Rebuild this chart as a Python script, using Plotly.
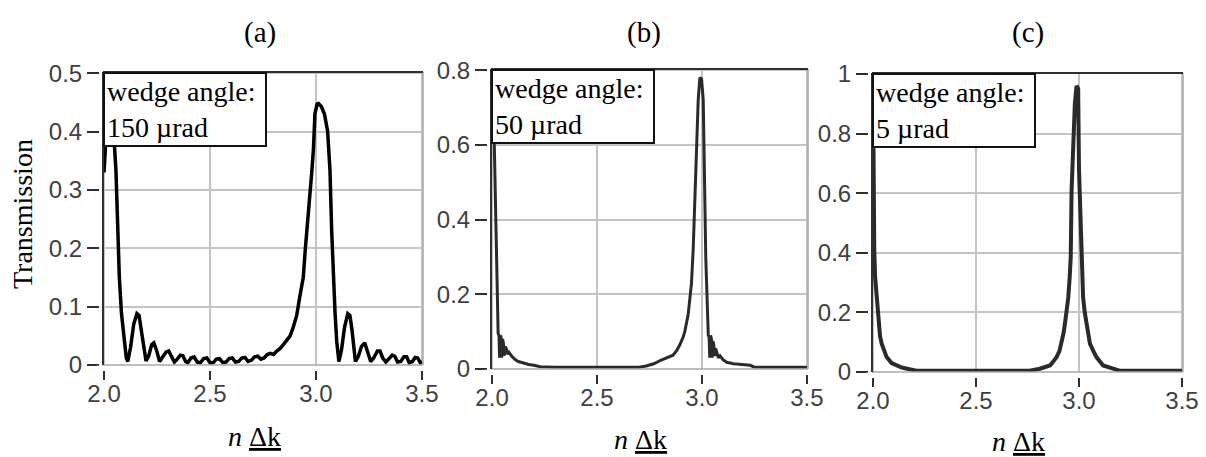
import plotly.graph_objects as go

# ---------------- data ----------------
panel_titles = ["(a)", "(b)", "(c)"]
wedge_labels = ["wedge angle:<br>150 µrad", "wedge angle:<br>50 µrad", "wedge angle:<br>5 µrad"]
x_ticks = [2.0, 2.5, 3.0, 3.5]
x_ticktext = ["2.0", "2.5", "3.0", "3.5"]
y_ticks_a = [0, 0.1, 0.2, 0.3, 0.4, 0.5]
y_ticktext_a = ["0", "0.1", "0.2", "0.3", "0.4", "0.5"]
y_ticks_b = [0, 0.2, 0.4, 0.6, 0.8]
y_ticktext_b = ["0", "0.2", "0.4", "0.6", "0.8"]
y_ticks_c = [0, 0.2, 0.4, 0.6, 0.8, 1.0]
y_ticktext_c = ["0", "0.2", "0.4", "0.6", "0.8", "1"]

# (a) wedge angle 150 µrad
x_a = [2.000, 2.005, 2.012, 2.020, 2.030, 2.040, 2.050, 2.056, 2.064, 2.072, 2.082,
       2.097, 2.105, 2.112, 2.125, 2.140, 2.155, 2.165, 2.175, 2.185, 2.198, 2.210,
       2.225, 2.235, 2.248, 2.262, 2.275, 2.292, 2.305, 2.318, 2.332, 2.345, 2.360,
       2.372, 2.385, 2.395, 2.410, 2.425, 2.440, 2.455, 2.470, 2.485, 2.500, 2.515,
       2.530, 2.545, 2.560, 2.575, 2.590, 2.605, 2.620, 2.635, 2.650, 2.665, 2.680,
       2.695, 2.710, 2.725, 2.740, 2.755, 2.770, 2.785, 2.800, 2.815, 2.830, 2.846,
       2.862, 2.878, 2.893, 2.909, 2.925, 2.940, 2.950, 2.964, 2.972, 2.980, 2.988,
       2.995, 3.005, 3.012, 3.025, 3.040, 3.055, 3.066, 3.074, 3.082, 3.090, 3.098,
       3.108, 3.120, 3.135, 3.150, 3.160, 3.170, 3.178, 3.186, 3.200, 3.215, 3.230,
       3.243, 3.258, 3.272, 3.290, 3.302, 3.315, 3.330, 3.345, 3.360, 3.372, 3.385,
       3.400, 3.415, 3.428, 3.440, 3.455, 3.468, 3.480, 3.492, 3.500]
y_a = [0.330, 0.370, 0.410, 0.440, 0.445, 0.430, 0.380, 0.334, 0.243, 0.151, 0.089,
       0.043, 0.012, 0.006, 0.030, 0.070, 0.088, 0.085, 0.060, 0.030, 0.007, 0.015,
       0.035, 0.038, 0.025, 0.006, 0.012, 0.022, 0.024, 0.015, 0.005, 0.010, 0.017,
       0.016, 0.006, 0.004, 0.012, 0.014, 0.005, 0.004, 0.011, 0.012, 0.004, 0.004,
       0.010, 0.011, 0.004, 0.005, 0.011, 0.012, 0.005, 0.006, 0.012, 0.013, 0.006,
       0.008, 0.014, 0.015, 0.010, 0.012, 0.018, 0.020, 0.018, 0.024, 0.028, 0.035,
       0.042, 0.050, 0.065, 0.085, 0.120, 0.150, 0.200, 0.255, 0.295, 0.330, 0.370,
       0.430, 0.447, 0.448, 0.443, 0.430, 0.400, 0.334, 0.231, 0.151, 0.089, 0.040,
       0.006, 0.025, 0.065, 0.088, 0.085, 0.060, 0.030, 0.006, 0.015, 0.032, 0.038,
       0.025, 0.006, 0.012, 0.024, 0.024, 0.012, 0.005, 0.010, 0.017, 0.015, 0.005,
       0.006, 0.014, 0.014, 0.004, 0.006, 0.013, 0.012, 0.004, 0.006]

# (b) wedge angle 50 µrad
x_b = [2.000, 2.006, 2.010, 2.013, 2.017, 2.021, 2.025, 2.029, 2.033, 2.036, 2.040,
       2.043, 2.046, 2.050, 2.054, 2.058, 2.062, 2.068, 2.072, 2.080, 2.093, 2.110,
       2.125, 2.150, 2.175, 2.200, 2.230, 2.300, 2.500, 2.700, 2.734, 2.770, 2.806,
       2.835, 2.862, 2.880, 2.894, 2.910, 2.918, 2.934, 2.942, 2.950, 2.958, 2.966,
       2.974, 2.982, 2.990, 2.998, 3.006, 3.010, 3.014, 3.018, 3.022, 3.026, 3.030,
       3.034, 3.037, 3.041, 3.045, 3.048, 3.052, 3.056, 3.060, 3.065, 3.070, 3.078,
       3.086, 3.100, 3.118, 3.150, 3.190, 3.230, 3.250, 3.400, 3.500]
y_b = [0.770, 0.720, 0.620, 0.550, 0.450, 0.300, 0.190, 0.095, 0.090, 0.030, 0.090,
       0.085, 0.030, 0.080, 0.070, 0.035, 0.060, 0.055, 0.040, 0.045, 0.035, 0.025,
       0.020, 0.015, 0.012, 0.010, 0.006, 0.005, 0.005, 0.005, 0.008, 0.014, 0.024,
       0.030, 0.037, 0.050, 0.064, 0.085, 0.100, 0.145, 0.180, 0.230, 0.319, 0.452,
       0.586, 0.720, 0.780, 0.776, 0.720, 0.550, 0.370, 0.300, 0.230, 0.140, 0.090,
       0.085, 0.030, 0.090, 0.080, 0.030, 0.075, 0.065, 0.035, 0.055, 0.045, 0.030,
       0.035, 0.025, 0.018, 0.014, 0.012, 0.010, 0.005, 0.005, 0.005]

# (c) wedge angle 5 µrad
x_c = [2.000, 2.002, 2.006, 2.010, 2.018, 2.026, 2.034, 2.042, 2.054, 2.066, 2.090,
       2.115, 2.140, 2.166, 2.210, 2.500, 2.760, 2.810, 2.859, 2.875, 2.891, 2.905,
       2.915, 2.925, 2.932, 2.940, 2.948, 2.955, 2.960, 2.964, 2.972, 2.980, 2.988,
       2.996, 3.000, 3.006, 3.012, 3.020, 3.028, 3.036, 3.053, 3.070, 3.085, 3.117,
       3.166, 3.200, 3.500]
y_c = [0.960, 0.680, 0.410, 0.320, 0.250, 0.163, 0.120, 0.095, 0.070, 0.050, 0.030,
       0.022, 0.015, 0.011, 0.004, 0.004, 0.004, 0.011, 0.022, 0.035, 0.050, 0.070,
       0.095, 0.130, 0.163, 0.200, 0.250, 0.320, 0.387, 0.610, 0.780, 0.900, 0.960,
       0.950, 0.680, 0.520, 0.410, 0.250, 0.200, 0.163, 0.095, 0.070, 0.050, 0.022,
       0.011, 0.004, 0.004]

# ---------------- layout helpers ----------------
# The page body has an 8px default margin, so the figure starts at (8, 8)
# in the window; positions below are given in window pixels.
OFF = 8
W, H = 1206 - OFF, 457 - OFF


def px_x(p):
    return (p - OFF) / W


def px_y(p):
    return 1 - (p - OFF) / H


# plot-area boxes in window pixels: (left, right, top, bottom)
boxes = [(103, 423, 72, 365), (491, 808, 69, 369), (872, 1183, 73, 372)]
y_ranges = [[0, 0.502], [0, 0.803], [0, 1.003]]
x_range = [1.995, 3.505]
title_pos = [(260, 32), (644, 32), (1028, 32)]
xlabel_pos = [(254, 436), (640, 439), (1018, 441)]
line_colors = ["#000000", "#2a2a2a", "#2a2a2a"]
line_widths = [3.5, 3, 4]
y_tick_sets = [(y_ticks_a, y_ticktext_a), (y_ticks_b, y_ticktext_b), (y_ticks_c, y_ticktext_c)]
series = [(x_a, y_a), (x_b, y_b), (x_c, y_c)]

serif = "Liberation Serif, Times New Roman, serif"
sans = "Liberation Sans, Arial, sans-serif"
grid_col = "#c4c4c4"
dark = "#303030"

fig = go.Figure()
layout = dict(
    width=W, height=H, autosize=False,
    margin=dict(l=0, r=0, t=0, b=0, pad=0, autoexpand=False),
    paper_bgcolor="white", plot_bgcolor="white",
    showlegend=False,
)
annotations = []
shapes = []

for i in range(3):
    sfx = "" if i == 0 else str(i + 1)
    L, R, T, B = boxes[i]
    xs, ys = series[i]
    fig.add_trace(go.Scatter(
        x=xs, y=ys, mode="lines",
        line=dict(color=line_colors[i], width=line_widths[i]),
        xaxis="x" + sfx, yaxis="y" + sfx, hoverinfo="skip",
    ))
    yt, ytt = y_tick_sets[i]
    layout["xaxis" + sfx] = dict(
        domain=[px_x(L), px_x(R)], range=x_range,
        anchor="y" + sfx, automargin=False,
        tickmode="array", tickvals=x_ticks, ticktext=x_ticktext,
        ticks="outside", ticklen=14, tickwidth=1.5, tickcolor=dark,
        ticklabelstandoff=-7,
        showgrid=True, gridcolor=grid_col, gridwidth=1.5,
        showline=False, zeroline=False, fixedrange=True,
        tickfont=dict(family=sans, size=24, color="#404040"),
    )
    layout["yaxis" + sfx] = dict(
        domain=[px_y(B), px_y(T)], range=y_ranges[i],
        anchor="x" + sfx, automargin=False,
        tickmode="array", tickvals=yt, ticktext=ytt,
        ticks="outside", ticklen=15, tickwidth=1.5, tickcolor=dark,
        showgrid=True, gridcolor=grid_col, gridwidth=1.5,
        showline=False, zeroline=False, fixedrange=True,
        tickfont=dict(family=sans, size=24, color="#404040"),
    )
    xd = "x" + sfx + " domain"
    yd = "y" + sfx + " domain"
    # white gaps between tick marks and the frame
    shapes.append(dict(type="rect", xref=xd, yref="paper",
                       x0=-0.02, x1=1.02, y0=px_y(B + 6), y1=px_y(B + 0.8),
                       line=dict(width=0), fillcolor="white", layer="above"))
    shapes.append(dict(type="rect", xref="paper", yref=yd,
                       x0=px_x(L - 4), x1=px_x(L - 0.8), y0=-0.02, y1=1.02,
                       line=dict(width=0), fillcolor="white", layer="above"))
    # gray frame (bottom/right), dark frame (top/left)
    shapes.append(dict(type="line", xref=xd, yref=yd, x0=0, x1=1, y0=0, y1=0,
                       line=dict(color="#a8a8a8", width=1.5), layer="above"))
    shapes.append(dict(type="line", xref=xd, yref=yd, x0=1, x1=1, y0=0, y1=1,
                       line=dict(color="#a8a8a8", width=1.5), layer="above"))
    shapes.append(dict(type="line", xref=xd, yref=yd, x0=0, x1=1, y0=1, y1=1,
                       line=dict(color=dark, width=2), layer="above"))
    shapes.append(dict(type="line", xref=xd, yref=yd, x0=0, x1=0, y0=0, y1=1,
                       line=dict(color=dark, width=2), layer="above"))
    # panel title
    tx, ty = title_pos[i]
    annotations.append(dict(text=panel_titles[i], xref="paper", yref="paper",
                            x=px_x(tx), y=px_y(ty), xanchor="center", yanchor="middle",
                            showarrow=False, font=dict(family=serif, size=29, color="black")))
    # x label
    lx, ly = xlabel_pos[i]
    annotations.append(dict(
        text="<i>n</i> <span style='text-decoration:underline'>Δk</span>",
        xref="paper", yref="paper", x=px_x(lx), y=px_y(ly),
        xanchor="center", yanchor="middle", showarrow=False,
        font=dict(family=serif, size=28, color="black")))
    # wedge-angle box
    annotations.append(dict(
        text=wedge_labels[i], xref=xd, yref=yd, x=0, y=1,
        xanchor="left", yanchor="top", align="left", showarrow=False,
        width=156, borderpad=2, borderwidth=2, bordercolor="#111111",
        bgcolor="white", font=dict(family=serif, size=28, color="black")))

annotations.append(dict(text="Transmission", xref="paper", yref="paper",
                        x=px_x(22), y=px_y(214), xanchor="center", yanchor="middle",
                        textangle=-90, showarrow=False,
                        font=dict(family=serif, size=28, color="black")))

layout["annotations"] = annotations
layout["shapes"] = shapes
fig.update_layout(**layout)
fig.write_html("out.html")
